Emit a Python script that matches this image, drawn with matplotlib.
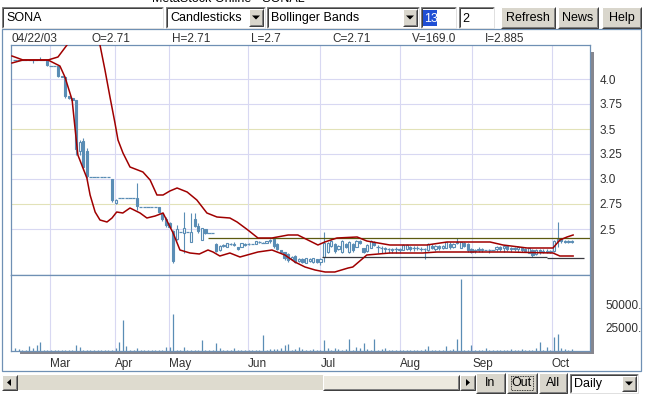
import matplotlib
matplotlib.use("Agg")
import matplotlib.pyplot as plt
from matplotlib.patches import Rectangle, Polygon
import numpy as np

plt.rcParams['font.family'] = ['Liberation Sans', 'DejaVu Sans']

# ---- data (bar index 0..155) ----
opens = [4.19, 4.19, 4.19, 4.19, 4.19, 4.19, 4.19, 4.19, 4.19, 4.19,
         4.13, 4.13, 4.13, 4.03, 4.02, 3.83, 3.81, 3.79, 3.28, 3.38,
         3.28, 3.02, 3.02, 3.02, 3.02, 3.02, 3.02, 3.00, 2.76, 2.81,
         2.81, 2.81, 2.81, 2.81, 2.81, 2.72, 2.72, 2.72, 2.72, 2.72,
         2.72, 2.66, 2.60, 2.56, 2.48, 2.40, 2.47, 2.46, 2.47, 2.37,
         2.60, 2.53, 2.39, 2.50, 2.46, 2.46, 2.35, 2.29, 2.33, 2.32,
         2.35, 2.34, 2.32, 2.32, 2.35, 2.35, 2.35, 2.35, 2.37, 2.36,
         2.36, 2.38, 2.40, 2.35, 2.29, 2.27, 2.25, 2.20, 2.23, 2.18,
         2.20, 2.16, 2.18, 2.17, 2.20, 2.17, 2.22, 2.27, 2.33, 2.35,
         2.30, 2.27, 2.35, 2.27, 2.35, 2.32, 2.38, 2.31, 2.28, 2.31,
         2.37, 2.32, 2.31, 2.31, 2.30, 2.30, 2.30, 2.29, 2.29, 2.30,
         2.32, 2.31, 2.31, 2.30, 2.30, 2.29, 2.33, 2.30, 2.33, 2.31,
         2.31, 2.35, 2.32, 2.36, 2.31, 2.36, 2.35, 2.30, 2.28, 2.30,
         2.29, 2.29, 2.29, 2.29, 2.30, 2.32, 2.31, 2.33, 2.31, 2.30,
         2.30, 2.31, 2.30, 2.26, 2.29, 2.25, 2.29, 2.27, 2.28, 2.27,
         2.28, 2.38, 2.41, 2.38, 2.37, 2.38]
highs = [4.19, 4.19, 4.19, 4.19, 4.19, 4.19, 4.19, 4.22, 4.19, 4.19,
         4.13, 4.13, 4.14, 4.03, 4.02, 3.83, 3.81, 3.79, 3.39, 3.41,
         3.31, 3.02, 3.02, 3.02, 3.02, 3.02, 3.02, 3.00, 2.80, 2.81,
         2.81, 2.81, 2.81, 2.81, 2.96, 2.72, 2.72, 2.72, 2.72, 2.72,
         2.72, 2.66, 2.62, 2.57, 2.49, 2.54, 2.47, 2.67, 2.47, 2.66,
         2.66, 2.56, 2.51, 2.50, 2.46, 2.46, 2.36, 2.34, 2.35, 2.36,
         2.36, 2.37, 2.32, 2.36, 2.36, 2.36, 2.35, 2.38, 2.38, 2.37,
         2.38, 2.40, 2.41, 2.36, 2.29, 2.27, 2.26, 2.23, 2.24, 2.21,
         2.21, 2.21, 2.21, 2.21, 2.20, 2.21, 2.47, 2.37, 2.39, 2.36,
         2.34, 2.39, 2.36, 2.38, 2.36, 2.39, 2.39, 2.31, 2.35, 2.39,
         2.38, 2.34, 2.33, 2.32, 2.31, 2.31, 2.32, 2.31, 2.35, 2.35,
         2.33, 2.33, 2.33, 2.32, 2.31, 2.36, 2.35, 2.34, 2.34, 2.34,
         2.37, 2.37, 2.36, 2.41, 2.37, 2.37, 2.36, 2.31, 2.30, 2.32,
         2.31, 2.29, 2.30, 2.29, 2.33, 2.33, 2.34, 2.34, 2.32, 2.32,
         2.33, 2.32, 2.31, 2.31, 2.30, 2.30, 2.30, 2.30, 2.30, 2.29,
         2.39, 2.57, 2.41, 2.39, 2.39, 2.39]
lows = [4.19, 4.19, 4.19, 4.19, 4.19, 4.16, 4.19, 4.19, 4.19, 4.13,
        4.13, 4.13, 4.02, 4.02, 3.81, 3.80, 3.79, 3.24, 3.24, 3.09,
        3.01, 3.02, 3.02, 3.02, 3.02, 3.02, 3.02, 2.77, 2.75, 2.81,
        2.81, 2.81, 2.81, 2.81, 2.69, 2.72, 2.72, 2.72, 2.72, 2.72,
        2.66, 2.58, 2.52, 2.51, 2.16, 2.39, 2.47, 2.26, 2.47, 2.37,
        2.52, 2.46, 2.39, 2.45, 2.46, 2.46, 2.27, 2.28, 2.32, 2.32,
        2.34, 2.33, 2.29, 2.32, 2.33, 2.34, 2.35, 2.35, 2.36, 2.36,
        2.36, 2.36, 2.31, 2.29, 2.26, 2.19, 2.17, 2.19, 2.16, 2.17,
        2.16, 2.16, 2.17, 2.16, 2.16, 2.14, 2.17, 2.26, 2.32, 2.26,
        2.29, 2.26, 2.31, 2.26, 2.27, 2.32, 2.35, 2.26, 2.27, 2.31,
        2.33, 2.26, 2.26, 2.26, 2.26, 2.26, 2.26, 2.26, 2.29, 2.29,
        2.28, 2.28, 2.29, 2.28, 2.20, 2.28, 2.30, 2.28, 2.29, 2.30,
        2.31, 2.30, 2.31, 2.35, 2.31, 2.32, 2.27, 2.26, 2.26, 2.27,
        2.27, 2.29, 2.26, 2.29, 2.28, 2.28, 2.27, 2.28, 2.27, 2.28,
        2.27, 2.27, 2.27, 2.26, 2.22, 2.24, 2.25, 2.26, 2.26, 2.26,
        2.27, 2.32, 2.36, 2.36, 2.36, 2.36]
closes = [4.19, 4.19, 4.19, 4.19, 4.19, 4.19, 4.19, 4.19, 4.19, 4.14,
          4.13, 4.13, 4.03, 4.02, 3.83, 3.81, 3.79, 3.30, 3.37, 3.12,
          3.03, 3.02, 3.02, 3.02, 3.02, 3.02, 3.02, 2.79, 2.79, 2.81,
          2.81, 2.81, 2.81, 2.81, 2.73, 2.72, 2.72, 2.72, 2.72, 2.72,
          2.67, 2.60, 2.54, 2.52, 2.18, 2.50, 2.47, 2.51, 2.47, 2.47,
          2.53, 2.48, 2.51, 2.46, 2.46, 2.46, 2.28, 2.33, 2.34, 2.36,
          2.35, 2.35, 2.30, 2.36, 2.34, 2.35, 2.35, 2.38, 2.37, 2.36,
          2.38, 2.39, 2.33, 2.30, 2.27, 2.21, 2.19, 2.22, 2.17, 2.20,
          2.17, 2.21, 2.20, 2.21, 2.17, 2.20, 2.36, 2.36, 2.38, 2.28,
          2.33, 2.38, 2.32, 2.37, 2.29, 2.38, 2.36, 2.27, 2.34, 2.38,
          2.34, 2.32, 2.31, 2.30, 2.30, 2.29, 2.30, 2.30, 2.34, 2.34,
          2.30, 2.31, 2.31, 2.30, 2.30, 2.35, 2.31, 2.33, 2.31, 2.33,
          2.37, 2.32, 2.35, 2.37, 2.37, 2.33, 2.29, 2.27, 2.29, 2.29,
          2.30, 2.29, 2.29, 2.29, 2.32, 2.30, 2.33, 2.30, 2.30, 2.31,
          2.32, 2.29, 2.28, 2.31, 2.24, 2.29, 2.27, 2.28, 2.27, 2.28,
          2.38, 2.40, 2.38, 2.37, 2.38, 2.37]
volume = [3600, 2200, 1100, 1100, 5800, 3600, 6500, 9800, 1100, 1100,
          1100, 1100, 1100, 1100, 1100, 1100, 1100, 6500, 4300, 1100,
          1100, 1100, 1100, 1100, 1100, 1100, 1100, 1100, 3600, 10000,
          33700, 5400, 1100, 1100, 3600, 1100, 1100, 1100, 1100, 1100,
          1100, 1100, 4700, 4000, 40200, 1100, 1100, 4700, 1100, 1100,
          1100, 1100, 12000, 1100, 1100, 1100, 9000, 3600, 1100, 1100,
          1100, 3600, 1100, 1100, 1100, 1100, 1100, 1100, 1100, 17400,
          1100, 2500, 2500, 2500, 3600, 6500, 7600, 1100, 2200, 4300,
          2200, 1100, 1100, 2500, 1100, 1100, 12300, 3600, 1100, 3300,
          2500, 1100, 2500, 13400, 1100, 4300, 3300, 8700, 2200, 1100,
          13400, 1100, 2200, 3300, 1100, 1100, 1100, 1100, 1100, 1100,
          1100, 1100, 1100, 1100, 2500, 5800, 1100, 1100, 1100, 1100,
          5800, 1100, 2500, 13400, 78000, 1100, 1100, 6500, 1100, 1100,
          1100, 3600, 1100, 1100, 1100, 1100, 1100, 1100, 2500, 1100,
          1100, 2500, 1100, 1100, 1100, 3600, 10100, 1100, 4300, 1100,
          15200, 18500, 3600, 2200, 1100, 2500]

# Bollinger bands (13, 2)
upper_idx = [-0.83, 2.23, 9.18, 11.96, 14.47, 18.1, 21.4, 23.65, 25.04, 26.43,
             27.82, 28.66, 30.05, 32.0, 35.6, 37.6, 39.5, 41.2, 43.1, 45.1,
             47.9, 50.6, 53.4, 56.2, 59.8, 61.8, 64.8, 67.6, 71.5, 76.0,
             78.7, 81.5, 84.3, 86.2, 89.6, 95.2, 97.9, 104.3, 114.6, 120.2,
             132.2, 135.8, 142.5, 149.7, 151.6, 153.6, 155.3]
upper_val = [4.23, 4.19, 4.19, 4.22, 4.34, 4.69, 4.69, 4.34, 4.09, 3.82,
             3.56, 3.39, 3.26, 3.12, 3.07, 2.99, 2.84, 2.84, 2.88, 2.91,
             2.87, 2.79, 2.66, 2.62, 2.61, 2.57, 2.49, 2.41, 2.41, 2.44,
             2.44, 2.39, 2.34, 2.37, 2.41, 2.42, 2.38, 2.34, 2.34, 2.37,
             2.37, 2.34, 2.31, 2.31, 2.39, 2.42, 2.44]
lower_idx = [-0.83, 2.23, 9.18, 12.5, 13.9, 15.9, 16.7, 17.5, 20.0, 20.9,
             22.3, 23.65, 25.6, 27.0, 28.3, 30.0, 32.0, 34.8, 36.7, 39.0,
             41.2, 42.6, 44.0, 45.9, 48.7, 51.3, 53.7, 55.1, 57.0, 59.8,
             62.6, 67.6, 71.5, 75.1, 77.9, 80.7, 83.5, 86.3, 89.0, 92.7,
             94.0, 97.9, 104.3, 113.5, 117.4, 136.9, 149.7, 151.6, 155.3]
lower_val = [4.16, 4.19, 4.19, 4.13, 4.02, 3.79, 3.51, 3.24, 3.01, 2.84,
             2.67, 2.59, 2.57, 2.61, 2.67, 2.66, 2.71, 2.66, 2.61, 2.63,
             2.66, 2.56, 2.46, 2.29, 2.26, 2.25, 2.29, 2.27, 2.23, 2.26,
             2.22, 2.27, 2.29, 2.24, 2.17, 2.12, 2.09, 2.07, 2.07, 2.11,
             2.12, 2.24, 2.26, 2.26, 2.27, 2.27, 2.26, 2.23, 2.23]

# user drawn horizontal lines: (start bar, end bar, price)
olive_line = (53.7, 160.0, 2.41)
dark_lines = [(85.4, 148.0, 2.217), (148.0, 158.3, 2.207)]

month_names = ["Mar", "Apr", "May", "Jun", "Jul", "Aug", "Sep", "Oct"]
month_idx = [9.8, 27.9, 42.9, 64.8, 85.0, 107.2, 127.2, 149.3]
price_ticks = [2.5, 2.75, 3.0, 3.25, 3.5, 3.75, 4.0]
price_labels = ["2.5", "2.75", "3.0", "3.25", "3.5", "3.75", "4.0"]
vol_ticks = [25000, 50000]
vol_labels = ["25000.", "50000."]

info = [("04/22/03", 12), ("O=2.71", 91), ("H=2.71", 172), ("L=2.7", 251),
        ("C=2.71", 332), ("V=169.0", 412), ("I=2.885", 485)]

BLUE = "#5a8db5"
RED = "#a00000"
FRAME = "#6f90b4"
GRID = "#d8d8f2"
KHAKI = "#e2e2b8"
TXT = "#303030"

W, H = 650, 399
fig = plt.figure(figsize=(6.5, 3.99), dpi=100)
fig.patch.set_facecolor("white")


def frac(x0, y0, x1, y1):
    return [x0 / W, 1 - y1 / H, (x1 - x0) / W, (y1 - y0) / H]


bg = fig.add_axes([0, 0, 1, 1], zorder=0)
bg.set_xlim(0, W)
bg.set_ylim(H, 0)
bg.axis("off")


def box(x0, y0, x1, y1, fc, ec="none", lw=0.72, z=1, ls="-"):
    bg.add_patch(Rectangle((x0, y0), x1 - x0, y1 - y0, facecolor=fc,
                           edgecolor=ec, lw=lw, zorder=z, ls=ls))


def seg(xs, ys, c, lw=0.72, z=2):
    bg.plot(xs, ys, color=c, lw=lw, zorder=z, solid_capstyle="butt")


def field(x0, y0, x1, y1):
    box(x0, y0, x1, y1, "white")
    seg([x0, x0, x1], [y1, y0, y0], "#808080")
    seg([x0 + 1, x0 + 1, x1 - 1], [y1 - 1, y0 + 1, y0 + 1], "#404040")
    seg([x0, x1, x1], [y1, y1, y0], "#e0e0e0")


def button(x0, y0, x1, y1, label=None, fs=9):
    box(x0, y0, x1, y1, "#d9d6cc")
    seg([x0, x0, x1], [y1, y0, y0], "white")
    seg([x0, x1, x1], [y1, y1, y0], "#404040")
    seg([x0 + 1, x1 - 1, x1 - 1], [y1 - 1, y1 - 1, y0 + 1], "#808080")
    if label:
        bg.text((x0 + x1) / 2, (y0 + y1) / 2 + 0.5, label, fontsize=fs,
                ha="center", va="center", color="black", zorder=3)


def arrow_down(cx, cy):
    bg.add_patch(Polygon([[cx - 4, cy - 2], [cx + 4, cy - 2], [cx, cy + 2]],
                         closed=True, facecolor="black", edgecolor="none", zorder=3))


def dropdown(x0, y0, x1, y1, label):
    field(x0, y0, x1, y1)
    button(x1 - 16, y0 + 2, x1 - 2, y1 - 2)
    arrow_down(x1 - 9, (y0 + y1) / 2)
    bg.text(x0 + 4, (y0 + y1) / 2 + 0.5, label, fontsize=9, va="center",
            color="black", zorder=3)


# title bar remnant
bg.text(228, -1.5, "MetaStock Online - SONAL", fontsize=9, ha="center",
        va="center", color="black")

# toolbar
field(2, 7, 163, 28)
bg.text(6, 18, "SONA", fontsize=9, va="center", color="black", zorder=3)
dropdown(166, 7, 265, 28, "Candlesticks")
dropdown(267, 7, 419, 28, "Bollinger Bands")
field(421, 7, 456, 28)
box(423, 10, 437, 26, "#1f4fd4", z=2)
bg.text(424, 18.5, "13", fontsize=9, va="center", color="white", zorder=3)
field(459, 7, 494, 28)
bg.text(462, 18.5, "2", fontsize=9, va="center", color="black", zorder=3)
button(501, 7, 555, 28, "Refresh")
button(558, 7, 598, 28, "News")
button(602, 7, 641, 28, "Help")

# chart frame
box(2, 29, 641, 371, "white", FRAME, lw=0.9, z=0.5)
for txt, x in info:
    bg.text(x, 38.5, txt, fontsize=8.5, va="center", color=TXT, zorder=3)

# 3d shadow of the plot panels
box(590.5, 52, 594, 354, "#86868e", z=1)
box(20, 351.5, 594, 354, "#86868e", z=1)

# bottom controls
box(2, 375, 475, 390, "#dedbcf")
button(2, 375, 17, 390)
bg.add_patch(Polygon([[7, 382.5], [11, 379], [11, 386]], closed=True,
                     facecolor="black", edgecolor="none", zorder=3))
button(323, 375, 459, 390)
box(324, 376, 458, 389, "#ece9df", z=2)
button(460, 375, 475, 390)
bg.add_patch(Polygon([[470, 382.5], [466, 379], [466, 386]], closed=True,
                     facecolor="black", edgecolor="none", zorder=3))
button(476, 373, 505, 393, "In")
button(507, 373, 537, 393, "Out")
box(511, 376, 533, 390, "none", "black", lw=0.6, z=3, ls=(0, (1, 1)))
button(539, 373, 567, 393, "All")
field(570, 374, 638, 393)
bg.text(574, 384, "Daily", fontsize=9, va="center", color="black", zorder=3)
button(622, 376, 636, 391)
arrow_down(629, 383.5)

# ---- price panel ----
idx = np.arange(len(closes))
xlo, xhi = -1.11, 160.0
bw = 0.62

ax_p = fig.add_axes(frac(11, 45, 590, 275), zorder=2)
ax_p.set_xlim(xlo, xhi)
ax_p.set_ylim(2.04, 4.34)
ax_p.set_xticks(month_idx)
ax_p.set_xticklabels([])
ax_p.grid(axis="x", color=GRID, lw=0.8)
for t in price_ticks:
    col = KHAKI if t in (3.5, 2.75) else GRID
    ax_p.axhline(t, color=col, lw=0.8, zorder=0.5)
ax_p.set_axisbelow(True)
ax_p.yaxis.tick_right()
ax_p.set_yticks(price_ticks)
ax_p.set_yticklabels(price_labels)
ax_p.tick_params(axis="y", length=0, pad=7, labelsize=8.5, labelcolor=TXT)
ax_p.tick_params(axis="x", length=0)
for s in ax_p.spines.values():
    s.set_color(FRAME)
    s.set_linewidth(0.9)

for i in idx:
    o, h, l, c = opens[i], highs[i], lows[i], closes[i]
    if h > l:
        ax_p.vlines(i, l, h, color=BLUE, lw=0.8, zorder=2)
    if c > o:
        ax_p.add_patch(Rectangle((i - bw / 2, o), bw, c - o, facecolor="white",
                                 edgecolor=BLUE, lw=0.8, zorder=3))
    elif c < o:
        ax_p.add_patch(Rectangle((i - bw / 2, c), bw, o - c, facecolor=BLUE,
                                 edgecolor=BLUE, lw=0.8, zorder=3))
    else:
        ax_p.hlines(o, i - 0.45, i + 0.45, color=BLUE, lw=0.9, zorder=3)

ax_p.plot(upper_idx, upper_val, color=RED, lw=1.1, zorder=4)
ax_p.plot(lower_idx, lower_val, color=RED, lw=1.1, zorder=4)
ax_p.hlines(olive_line[2], olive_line[0], olive_line[1], color="#5c5a10", lw=0.9, zorder=3.5)
for a, b, p in dark_lines:
    ax_p.hlines(p, a, b, color="#3a3a40", lw=0.9, zorder=3.5)

# ---- volume panel ----
ax_v = fig.add_axes(frac(11, 275, 590, 351), zorder=2)
ax_v.set_xlim(xlo, xhi)
ax_v.set_ylim(0, 82600)
ax_v.vlines(idx, 0, volume, color=BLUE, lw=0.9, zorder=3)
ax_v.set_xticks(month_idx)
ax_v.set_xticklabels(month_names, ha="left")
ax_v.grid(axis="x", color=GRID, lw=0.8)
ax_v.set_axisbelow(True)
ax_v.tick_params(axis="x", length=0, pad=5, labelsize=8.5, labelcolor=TXT)
ax_v.yaxis.tick_right()
ax_v.set_yticks(vol_ticks)
ax_v.set_yticklabels(vol_labels)
ax_v.tick_params(axis="y", length=0, pad=11, labelsize=8.5, labelcolor=TXT)
for s in ax_v.spines.values():
    s.set_color(FRAME)
    s.set_linewidth(0.9)

fig.savefig("out.png", dpi=100, facecolor="white")
